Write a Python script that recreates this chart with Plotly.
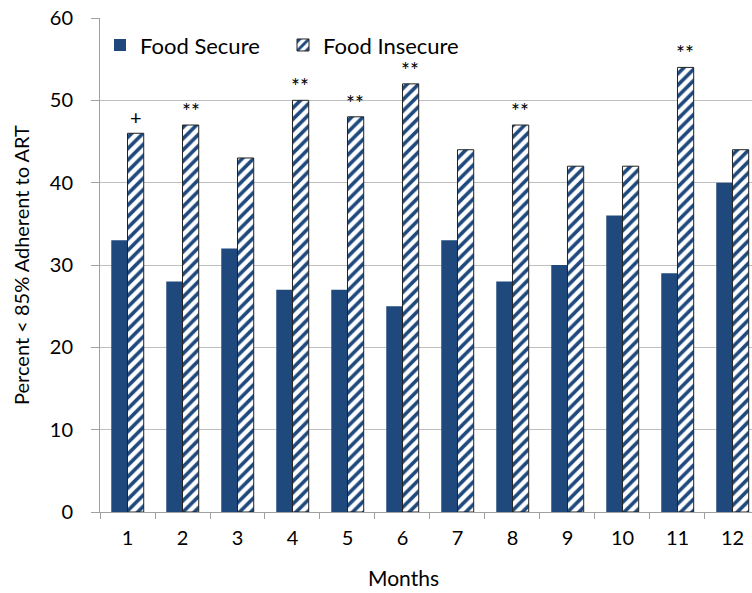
import plotly.graph_objects as go

months = ["1", "2", "3", "4", "5", "6", "7", "8", "9", "10", "11", "12"]
food_secure = [33, 28, 32, 27, 27, 25, 33, 28, 30, 36, 29, 40]
food_insecure = [46, 47, 43, 50, 48, 52, 44, 47, 42, 42, 54, 44]
significance = ["+", "**", "", "**", "**", "**", "", "**", "", "", "**", ""]

BLUE = "#1F497D"
FONT = "Lato"

fig = go.Figure()
fig.add_trace(go.Bar(
    x=months, y=food_secure, name="Food Secure",
    marker=dict(color=BLUE, line=dict(width=0)),
))
fig.add_trace(go.Bar(
    x=months, y=food_insecure, name="Food Insecure",
    marker=dict(color="white",
                line=dict(color="#222222", width=1),
                pattern=dict(shape="/", fgcolor=BLUE, bgcolor="white",
                             fgopacity=1, size=8, solidity=0.45,
                             fillmode="replace")),
))

for i, (v, s) in enumerate(zip(food_insecure, significance)):
    if s:
        fig.add_annotation(
            x=i, y=v, text=s, showarrow=False, xref="x", yref="y",
            xshift=8, yshift=2 if s == "+" else 0, yanchor="bottom",
            font=dict(family=FONT, size=20 if s == "+" else 21, color="black"),
        )

fig.add_annotation(
    x=0.465, y=-0.1316, xref="paper", yref="paper", text="Months",
    showarrow=False, xanchor="center", yanchor="middle",
    font=dict(family=FONT, size=21, color="black"),
)

fig.update_layout(
    width=752, height=593,
    margin=dict(l=100, r=0, t=18, b=81),
    paper_bgcolor="white", plot_bgcolor="white",
    barmode="group", bargap=0.41, bargroupgap=0,
    font=dict(family=FONT, size=20, color="black"),
    showlegend=True,
    legend=dict(orientation="h", x=0.0, y=0.945, xanchor="left", yanchor="middle",
                font=dict(family=FONT, size=22, color="black"),
                bgcolor="rgba(0,0,0,0)", itemwidth=30, traceorder="normal",
                entrywidth=138, entrywidthmode="pixels"),
    xaxis=dict(
        type="category", range=[-0.5, 11.355], tickson="boundaries",
        ticks="outside", ticklen=6, tickcolor="#A0A0A0",
        showline=True, linecolor="#A0A0A0", linewidth=1,
        showgrid=False, tickfont=dict(family=FONT, size=20),
        ticklabelstandoff=8,
    ),
    yaxis=dict(
        range=[0, 60], tickvals=[0, 10, 20, 30, 40, 50, 60],
        ticks="outside", ticklen=8, tickcolor="#A0A0A0",
        showline=True, linecolor="#A0A0A0", linewidth=1,
        showgrid=True, gridcolor="#BFBFBF", gridwidth=1,
        zeroline=False, tickfont=dict(family=FONT, size=20),
        ticklabelstandoff=14,
        title=dict(text="Percent < 85% Adherent to ART",
                   font=dict(family=FONT, size=20), standoff=14),
    ),
)

fig.write_html("out.html")
